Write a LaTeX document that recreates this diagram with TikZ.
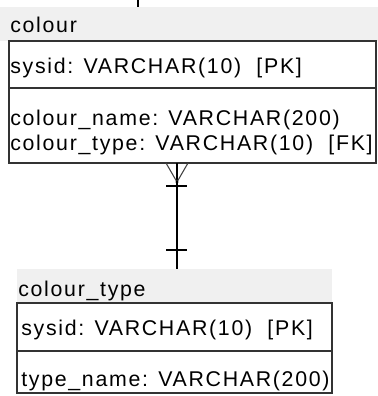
\documentclass[tikz,border=0pt]{standalone}
\usepackage{fontspec}
\setmainfont{Liberation Sans}[LetterSpace=8]
\usepackage{tikz}
\usetikzlibrary{calc}

\tikzset{
  field/.style={anchor=base west, inner sep=0pt, font=\fontsize{16pt}{20pt}\selectfont},
  tablebox/.style={draw=black!80, line width=1.1pt},
  tablehead/.style={fill=black!6},
  link/.style={line width=1.1pt, black},
  crowfoot/.style={line width=0.8pt, black!75}
}

\begin{document}
\begin{tikzpicture}[x=0.75pt, y=-0.75pt]
    \useasboundingbox (0,0) rectangle (378,396);

    % Table colour
    \fill[tablehead] (0,7) rectangle (378,41);
    \node[field] (colour) at (10,32) {colour};
    \draw[tablebox] (9,41) rectangle (376,163);
    \draw[tablebox] (9,88) -- (376,88);
    \node[field] (colour-pk) at (10,73) {sysid: VARCHAR(10)\ \ [PK]};
    \node[field] (colour-name) at (10,125) {colour\_name: VARCHAR(200)};
    \node[field] (colour-fk) at (10,150) {colour\_type: VARCHAR(10)\ \ [FK]};

    % Table colour_type
    \fill[tablehead] (17,269) rectangle (332,303);
    \node[field] (type) at (18,296) {colour\_type};
    \draw[tablebox] (17,303) rectangle (332,393);
    \draw[tablebox] (17,351) -- (332,351);
    \node[field] (type-pk) at (21,335) {sysid: VARCHAR(10)\ \ [PK]};
    \node[field] (type-name) at (21,386) {type\_name: VARCHAR(200)};

    % Link ends
    \coordinate (offpage) at (138,0);
    \coordinate (colour-top) at (138,7);
    \coordinate (colour-end) at (177,163);
    \coordinate (type-end) at (177,269);

    % Link from above the picture
    \draw[link, line width=1.8pt] (offpage) -- (colour-top);

    % colour (many) -- colour_type (one)
    \draw[link] (colour-end) -- (type-end);
    \draw[crowfoot] ($(colour-end)+(-11,0)$) -- ($(colour-end)+(0,19)$) -- ($(colour-end)+(11,0)$);
    \fill ($(colour-end)+(0,19)$) circle (1.2pt);
    \draw[link] ($(colour-end)+(-11,23)$) -- ($(colour-end)+(10,23)$);
    \draw[link] ($(type-end)+(-11,-19)$) -- ($(type-end)+(10,-19)$);
\end{tikzpicture}
\end{document}
